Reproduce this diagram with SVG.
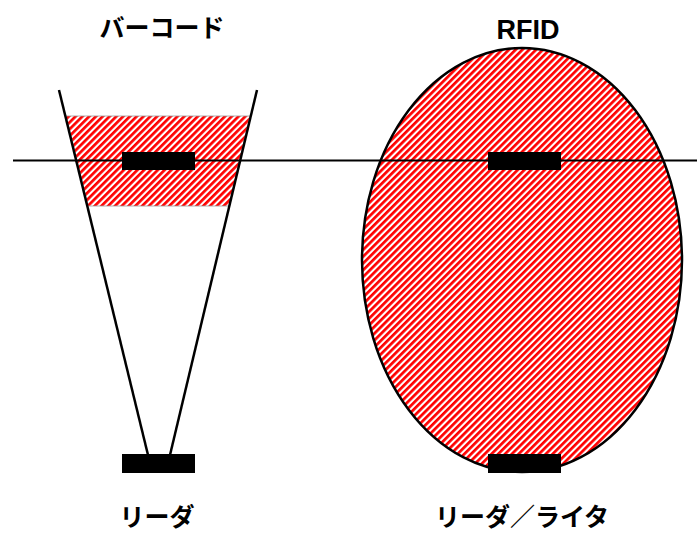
<svg xmlns="http://www.w3.org/2000/svg" width="697" height="535" viewBox="0 0 697 535">
<style>
.lbl{font-family:"Noto Sans CJK JP","Liberation Sans",sans-serif;font-weight:bold;font-size:25px;fill:#000;text-anchor:middle}
.ln{stroke:#000;stroke-width:2.5;fill:none}
.tag{fill:#000}
</style>
<defs>
<pattern id="hatch" width="4.8" height="4.8" patternUnits="userSpaceOnUse" patternTransform="rotate(45)">
<rect width="4.8" height="4.8" fill="#fff"/>
<rect width="2.7" height="4.8" fill="#f00"/>
</pattern>
</defs>
<rect width="697" height="535" fill="#fff"/>
<g id="barcode-zone">
<polygon points="66,116 250,116 229,206 88,206" fill="url(#hatch)" stroke="#999" stroke-width="0.8"/>
</g>
<g id="rfid-zone">
<ellipse cx="522" cy="260" rx="160" ry="212" class="ln" style="fill:url(#hatch)"/>
</g>
<g id="connectors">
<line x1="13" y1="160.5" x2="697" y2="160.5" stroke="#000" stroke-width="2"/>
<line class="ln" x1="59" y1="90" x2="148" y2="455"/>
<line class="ln" x1="257" y1="90" x2="170" y2="455"/>
</g>
<g id="barcode-tag"><rect class="tag" x="122" y="152" width="73" height="18"/></g>
<g id="barcode-reader"><rect class="tag" x="122" y="454" width="73" height="19"/></g>
<g id="rfid-tag"><rect class="tag" x="488" y="152" width="73" height="18"/></g>
<g id="rfid-reader"><rect class="tag" x="488" y="454" width="73" height="19"/></g>
<g id="labels">
<text class="lbl" x="162" y="37">バーコード</text>
<text class="lbl" x="528" y="39" style="font-family:'Liberation Sans',sans-serif;font-size:27px">RFID</text>
<text class="lbl" x="157" y="526">リーダ</text>
<text class="lbl" x="522" y="526">リーダ／ライタ</text>
</g>
</svg>
